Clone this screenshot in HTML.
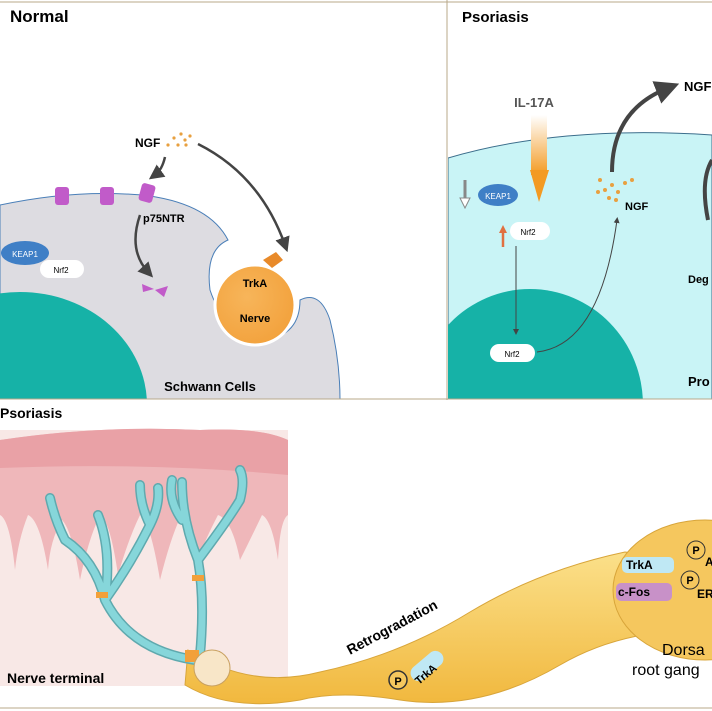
<!DOCTYPE html><html><head><meta charset="utf-8"><style>body{margin:0;background:#fff}svg{display:block;font-family:"Liberation Sans",sans-serif}</style></head><body>
<svg width="712" height="711" viewBox="0 0 712 711">
<defs>
<linearGradient id="il" x1="0" y1="0" x2="0" y2="1"><stop offset="0" stop-color="#fff"/><stop offset="1" stop-color="#f39a22"/></linearGradient>
<radialGradient id="nv" cx="0.4" cy="0.4" r="0.7"><stop offset="0" stop-color="#f7b55a"/><stop offset="1" stop-color="#f2a03a"/></radialGradient>
<linearGradient id="ax" x1="0" y1="0" x2="0" y2="1"><stop offset="0" stop-color="#fbe08a"/><stop offset="1" stop-color="#f1b83e"/></linearGradient>
<marker id="ah" markerWidth="6" markerHeight="6" refX="3" refY="3" orient="auto"><path d="M0,0L6,3L0,6z" fill="#444"/></marker>
<clipPath id="cl"><rect x="0" y="0" width="447" height="399"/></clipPath>
<clipPath id="cr"><rect x="448" y="0" width="264" height="399"/></clipPath>
</defs>
<rect width="712" height="711" fill="#fff"/>
<g clip-path="url(#cl)">
<path d="M0,205 Q80,188 150,196 Q210,205 228,240 Q205,250 210,290 Q225,335 265,340 Q300,335 300,300 Q320,290 330,320 Q340,360 340,400 L0,400Z" fill="#dddce1" stroke="#4a7fb8" stroke-width="1"/>
<ellipse cx="20" cy="405" rx="127" ry="113" fill="#16b2a7"/>
</g>
<circle cx="255" cy="305" r="40" fill="url(#nv)" stroke="#fff" stroke-width="3"/>
<path d="M263,260 L276,252 L283,260 L272,268Z" fill="#e88a2a"/>
<text x="255" y="287" font-size="11" font-weight="bold" text-anchor="middle">TrkA</text>
<text x="255" y="322" font-size="11" font-weight="bold" text-anchor="middle">Nerve</text>
<text x="210" y="391" font-size="13" font-weight="bold" text-anchor="middle">Schwann Cells</text>
<ellipse cx="25" cy="253" rx="24" ry="12" fill="#3f7fc6"/><text x="25" y="257" font-size="8" fill="#fff" text-anchor="middle">KEAP1</text>
<rect x="40" y="260" width="44" height="18" rx="9" fill="#fff"/><text x="61" y="273" font-size="8" text-anchor="middle">Nrf2</text>
<g fill="#c15bc9"><rect x="55" y="187" width="14" height="18" rx="3"/><rect x="100" y="187" width="14" height="18" rx="3"/><rect x="140" y="184" width="14" height="18" rx="3" transform="rotate(15 147 193)"/>
<path d="M142,284 L154,289 L143,292Z"/><path d="M155,290 L168,286 L164,297Z"/></g>
<text x="143" y="222" font-size="11" font-weight="bold">p75NTR</text>
<text x="135" y="147" font-size="12" font-weight="bold">NGF</text>
<g fill="#e8a040"><circle cx="168" cy="145" r="1.6"/><circle cx="174" cy="138" r="1.6"/><circle cx="178" cy="145" r="1.6"/><circle cx="181" cy="134" r="1.6"/><circle cx="185" cy="140" r="1.6"/><circle cx="190" cy="136" r="1.6"/><circle cx="186" cy="145" r="1.6"/></g>
<g fill="none" stroke="#444" stroke-width="2.5"><path d="M165,157 Q162,170 155,175" marker-end="url(#ah)"/><path d="M140,215 Q128,250 148,272" marker-end="url(#ah)"/><path d="M198,144 Q260,175 285,245" marker-end="url(#ah)"/></g>
<text x="10" y="22" font-size="17" font-weight="bold">Normal</text>
<g clip-path="url(#cr)">
<path d="M448,158 Q560,125 712,135 L712,400 L448,400Z" fill="#c9f4f6" stroke="#3c6e8c" stroke-width="1"/>
<ellipse cx="530" cy="405" rx="113" ry="116" fill="#16b2a7"/>
</g>
<rect x="531" y="115" width="16" height="60" fill="url(#il)"/><path d="M530,170 L549,170 L539,202Z" fill="#f39a22"/>
<text x="534" y="107" font-size="13" font-weight="bold" fill="#555" text-anchor="middle">IL-17A</text>
<ellipse cx="498" cy="195" rx="20" ry="11" fill="#3f7fc6"/><text x="498" y="199" font-size="8" fill="#fff" text-anchor="middle">KEAP1</text>
<path d="M465,180 L465,200" stroke="#888" stroke-width="3"/><path d="M460,198 L470,198 L465,208Z" fill="#fff" stroke="#888"/>
<path d="M503,247 L503,232" stroke="#e07040" stroke-width="2.5"/><path d="M499,233 L507,233 L503,225Z" fill="#e07040"/>
<rect x="510" y="222" width="40" height="18" rx="9" fill="#fff"/><text x="528" y="235" font-size="8" text-anchor="middle">Nrf2</text>
<path d="M516,246 L516,332" stroke="#444" marker-end="url(#ah)" stroke-width="1"/>
<rect x="490" y="344" width="45" height="18" rx="9" fill="#fff"/><text x="512" y="357" font-size="8" text-anchor="middle">Nrf2</text>
<path d="M537,352 Q600,345 617,220" fill="none" stroke="#444" stroke-width="1" marker-end="url(#ah)"/>
<g fill="#e8a040"><circle cx="600" cy="180" r="2"/><circle cx="605" cy="190" r="2"/><circle cx="612" cy="185" r="2"/><circle cx="618" cy="192" r="2"/><circle cx="625" cy="183" r="2"/><circle cx="609" cy="198" r="2"/><circle cx="616" cy="200" r="2"/><circle cx="598" cy="192" r="2"/><circle cx="632" cy="180" r="2"/></g>
<text x="625" y="210" font-size="11" font-weight="bold">NGF</text>
<path d="M612,172 Q612,110 668,88" fill="none" stroke="#444" stroke-width="4" marker-end="url(#ah)"/>
<text x="684" y="91" font-size="13" font-weight="bold">NGF</text>
<path d="M712,160 Q700,180 708,220" fill="none" stroke="#444" stroke-width="4"/>
<text x="688" y="283" font-size="11" font-weight="bold">Deg</text>
<text x="688" y="386" font-size="13" font-weight="bold">Pro</text>
<text x="462" y="22" font-size="15" font-weight="bold">Psoriasis</text>
<g stroke="#b8a88a" fill="none"><line x1="0" y1="2" x2="712" y2="2"/><line x1="447" y1="0" x2="447" y2="400"/><line x1="0" y1="399" x2="712" y2="399"/><line x1="0" y1="708" x2="712" y2="708"/></g>
<!-- bottom -->
<rect x="0" y="430" width="288" height="256" fill="#f8e8e6"/>
<path d="M0,440 Q100,425 200,430 Q260,427 288,440 L288,515 Q280,520 278,560 Q272,520 262,515 Q250,540 240,560 Q232,520 218,515 Q205,540 200,555 Q190,520 180,518 Q170,540 160,580 Q150,520 140,515 Q128,540 118,575 Q110,520 100,515 Q88,540 80,580 Q72,530 62,520 Q50,540 48,570 Q40,520 28,515 Q18,540 15,570 Q10,520 0,515Z" fill="#efb7ba"/>
<path d="M0,440 Q100,425 200,430 Q260,427 288,440 L288,475 Q150,462 0,468Z" fill="#e9a1a6"/>
<path d="M188,650 Q250,690 320,672 Q400,655 470,612 Q540,570 625,552 L690,560 L700,630 Q620,630 560,665 Q480,712 400,700 Q340,690 300,700 Q230,712 185,685Z" fill="url(#ax)" stroke="#d8a53a"/>
<ellipse cx="705" cy="590" rx="92" ry="70" fill="#f5c75e" stroke="#d8a53a"/>
<g fill="none" stroke="#5fa9ae" stroke-width="10" stroke-linecap="round">
<path d="M195,660 Q130,650 105,600 Q95,560 65,540 M105,600 Q112,550 98,515 M105,600 Q130,565 150,525 M65,540 Q55,520 50,498 M150,525 Q140,505 140,485 M150,525 Q160,505 158,488"/>
<path d="M200,655 Q205,600 198,560 Q182,520 182,482 M198,560 Q228,520 240,500 M240,500 Q245,480 240,470 M182,520 Q168,500 172,480"/>
</g>
<g fill="none" stroke="#86d6da" stroke-width="7" stroke-linecap="round">
<path d="M195,660 Q130,650 105,600 Q95,560 65,540 M105,600 Q112,550 98,515 M105,600 Q130,565 150,525 M65,540 Q55,520 50,498 M150,525 Q140,505 140,485 M150,525 Q160,505 158,488"/>
<path d="M200,655 Q205,600 198,560 Q182,520 182,482 M198,560 Q228,520 240,500 M240,500 Q245,480 240,470 M182,520 Q168,500 172,480"/>
</g>
<g fill="#f2a03a"><rect x="96" y="592" width="12" height="6"/><rect x="192" y="575" width="12" height="6"/><rect x="185" y="650" width="14" height="12"/></g>
<circle cx="212" cy="668" r="18" fill="#f8e6c8" stroke="#c8a060"/>
<text x="7" y="683" font-size="14" font-weight="bold">Nerve terminal</text>
<text x="0" y="418" font-size="14" font-weight="bold">Psoriasis</text>
<text x="350" y="655" font-size="14" font-weight="bold" transform="rotate(-28 350 655)">Retrogradation</text>
<circle cx="398" cy="680" r="9" fill="#f5c75e" stroke="#333" stroke-width="1.5"/><text x="398" y="685" font-size="11" font-weight="bold" text-anchor="middle">P</text>
<rect x="408" y="658" width="38" height="16" rx="8" fill="#bfe8f4" transform="rotate(-40 427 666)"/><text x="412" y="678" font-size="11" font-weight="bold" transform="rotate(-40 425 672)">TrkA</text>
<rect x="622" y="557" width="52" height="16" rx="5" fill="#bfe8f4"/><text x="626" y="569" font-size="12" font-weight="bold">TrkA</text>
<rect x="616" y="583" width="56" height="18" rx="5" fill="#c891c8"/><text x="618" y="596" font-size="12" font-weight="bold">c-Fos</text>
<circle cx="696" cy="550" r="9" fill="#f5c75e" stroke="#333"/><text x="696" y="554" font-size="11" font-weight="bold" text-anchor="middle">P</text>
<circle cx="690" cy="580" r="9" fill="#f5c75e" stroke="#333"/><text x="690" y="584" font-size="11" font-weight="bold" text-anchor="middle">P</text>
<text x="705" y="566" font-size="12" font-weight="bold">A</text><text x="697" y="598" font-size="12" font-weight="bold">ER</text>
<text x="662" y="655" font-size="16">Dorsa</text><text x="632" y="675" font-size="16">root gang</text>
</svg></body></html>
